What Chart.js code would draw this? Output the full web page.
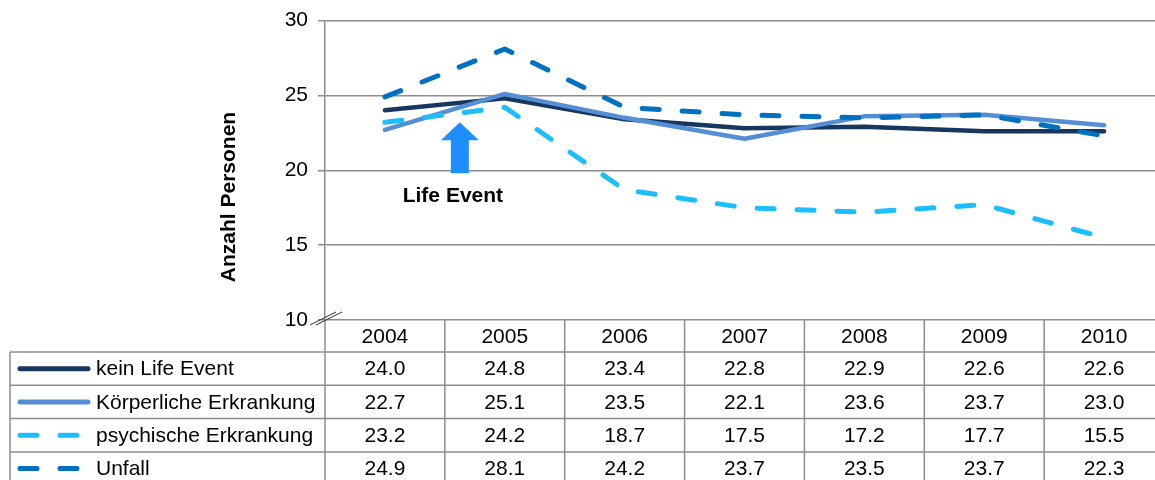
<!DOCTYPE html>
<html>
<head>
<meta charset="utf-8">
<script src="https://cdn.jsdelivr.net/npm/chart.js@4/dist/chart.umd.min.js"></script>
<style>
  html, body { margin: 0; padding: 0; background: #fff; overflow: hidden; }
  #wrap { width: 1164px; height: 480px; }
</style>
</head>
<body>
<div id="wrap"><canvas id="c" width="1164" height="480"></canvas></div>
<script>
// values
const years = ["2004", "2005", "2006", "2007", "2008", "2009", "2010"]
const keinLifeEvent = [24.0, 24.8, 23.4, 22.8, 22.9, 22.6, 22.6]
const koerperlich = [22.7, 25.1, 23.5, 22.1, 23.6, 23.7, 23.0]
const psychisch = [23.2, 24.2, 18.7, 17.5, 17.2, 17.7, 15.5]
const unfall = [24.9, 28.1, 24.2, 23.7, 23.5, 23.7, 22.3]
const yTicks = [10, 15, 20, 25, 30]

const FONT = "'Liberation Sans', Arial, sans-serif"
const SIZE = 21
const GRID = "#8c8c8c"

const series = [
  { label: "kein Life Event", data: keinLifeEvent, color: "#17375E", dash: [] },
  { label: "Körperliche Erkrankung", data: koerperlich, color: "#558ED5", dash: [] },
  { label: "psychische Erkrankung", data: psychisch, color: "#1CBEFF", dash: [17, 23] },
  { label: "Unfall", data: unfall, color: "#0070C0", dash: [17, 23] }
]

// data table + legend keys underneath the plot, axis title, axis break mark
// and the "Life Event" arrow. Everything is placed through the chart's scales.
const extras = {
  id: "extras",
  afterDatasetsDraw(chart) {
    const ctx = chart.ctx
    const x = chart.scales.x
    const y = chart.scales.y

    // Life Event arrow
    const ax = x.getPixelForValue(0.625)
    const tip = y.getPixelForValue(23.2)
    const headBase = y.getPixelForValue(22.0)
    const base = y.getPixelForValue(19.8)
    ctx.save()
    ctx.fillStyle = "#1E8FFF"
    ctx.beginPath()
    ctx.moveTo(ax, tip)
    ctx.lineTo(ax + 19, headBase)
    ctx.lineTo(ax + 9, headBase)
    ctx.lineTo(ax + 9, base)
    ctx.lineTo(ax - 9, base)
    ctx.lineTo(ax - 9, headBase)
    ctx.lineTo(ax - 19, headBase)
    ctx.closePath()
    ctx.fill()
    ctx.fillStyle = "#000"
    ctx.font = "bold " + SIZE + "px " + FONT
    ctx.textAlign = "center"
    ctx.textBaseline = "middle"
    ctx.fillText("Life Event", x.getPixelForValue(0.567), y.getPixelForValue(18.3))
    ctx.restore()
  },
  afterDraw(chart) {
    const ctx = chart.ctx
    const x = chart.scales.x
    const area = chart.chartArea
    const top = area.bottom
    const headerH = 32
    const rowH = 33.3
    const tableLeft = 10
    const right = chart.width

    ctx.save()
    // axis title
    ctx.fillStyle = "#000"
    ctx.font = "bold " + SIZE + "px " + FONT
    ctx.textAlign = "center"
    ctx.textBaseline = "middle"
    ctx.translate(229, 197)
    ctx.rotate(-Math.PI / 2)
    ctx.fillText("Anzahl Personen", 0, 0)
    ctx.restore()

    ctx.save()
    ctx.strokeStyle = GRID
    ctx.lineWidth = 1.5

    // horizontal rules
    for (let r = 0; r <= series.length; r++) {
      const yy = top + headerH + r * rowH
      ctx.beginPath()
      ctx.moveTo(tableLeft, yy)
      ctx.lineTo(right, yy)
      ctx.stroke()
    }
    // vertical rules
    ctx.beginPath()
    ctx.moveTo(tableLeft, top + headerH)
    ctx.lineTo(tableLeft, chart.height)
    ctx.stroke()
    for (let i = 0; i <= years.length; i++) {
      const xx = x.getPixelForValue(i - 0.5)
      ctx.beginPath()
      ctx.moveTo(xx, top)
      ctx.lineTo(xx, chart.height)
      ctx.stroke()
    }

    ctx.fillStyle = "#000"
    ctx.font = SIZE + "px " + FONT
    ctx.textBaseline = "middle"
    ctx.textAlign = "center"
    years.forEach((yr, i) => ctx.fillText(yr, x.getPixelForValue(i), top + headerH / 2 + 1))

    series.forEach((s, r) => {
      const cy = top + headerH + r * rowH + rowH / 2
      ctx.textAlign = "center"
      ctx.fillStyle = "#000"
      s.data.forEach((v, i) => ctx.fillText(v.toFixed(1), x.getPixelForValue(i), cy + 1))

      // legend key
      ctx.save()
      ctx.strokeStyle = s.color
      ctx.lineWidth = 5
      ctx.lineCap = "round"
      ctx.setLineDash(s.dash)
      ctx.beginPath()
      ctx.moveTo(20, cy)
      ctx.lineTo(s.dash.length ? 80 : 88, cy)
      ctx.stroke()
      ctx.restore()

      ctx.textAlign = "left"
      ctx.fillText(s.label, 96, cy + 1)
    })

    // axis break mark
    ctx.strokeStyle = "#333"
    ctx.lineWidth = 1
    const bx = area.left
    const by = area.bottom
    for (const d of [-3, 3]) {
      ctx.beginPath()
      ctx.moveTo(bx - 12 + d, by + 5)
      ctx.lineTo(bx + 14 + d, by - 8)
      ctx.stroke()
    }
    ctx.restore()
  }
}

new Chart(document.getElementById("c"), {
  type: "line",
  data: {
    labels: years,
    datasets: series.map((s, i) => ({
      label: s.label,
      data: s.data,
      borderColor: s.color,
      backgroundColor: s.color,
      borderWidth: i < 2 ? 4.5 : 5,
      borderDash: s.dash,
      borderCapStyle: "round",
      borderJoinStyle: "round",
      pointRadius: 0,
      tension: 0,
      order: series.length - i
    }))
  },
  options: {
    responsive: false,
    animation: false,
    devicePixelRatio: 1,
    layout: { padding: { top: 20, right: 0, bottom: 160, left: 0 } },
    plugins: { legend: { display: false }, tooltip: { enabled: false } },
    scales: {
      x: { type: "category", offset: true, display: false },
      y: {
        min: 10, max: 30,
        afterBuildTicks: (s) => { s.ticks = yTicks.map(v => ({ value: v })) },
        afterFit: (s) => { s.width = 325 },
        ticks: { color: "#000", font: { family: FONT, size: SIZE, lineHeight: 1 }, padding: 10 },
        grid: { color: GRID, lineWidth: 1.5, tickLength: 7, tickColor: GRID },
        border: { color: GRID, width: 1.5 }
      }
    }
  },
  plugins: [extras]
})
</script>
</body>
</html>
